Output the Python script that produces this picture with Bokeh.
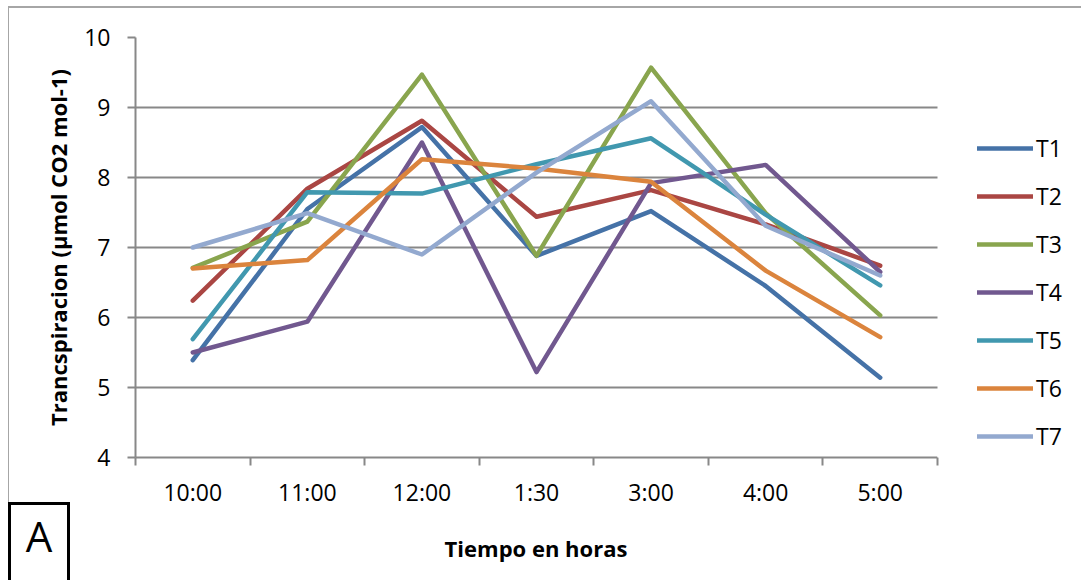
from bokeh.plotting import figure
from bokeh.layouts import column, row
from bokeh.models import Range1d, FixedTicker, Legend, LegendItem, Div, BoxAnnotation
from bokeh.embed import file_html
from bokeh.resources import INLINE

# Hours of measurement and transpiration per treatment
horas = ["10:00", "11:00", "12:00", "1:30", "3:00", "4:00", "5:00"]
T1 = [5.39, 7.55, 8.72, 6.88, 7.52, 6.45, 5.14]
T2 = [6.24, 7.84, 8.81, 7.44, 7.82, 7.33, 6.74]
T3 = [6.71, 7.37, 9.47, 6.88, 9.57, 7.49, 6.03]
T4 = [5.50, 5.94, 8.50, 5.22, 7.92, 8.18, 6.65]
T5 = [5.69, 7.79, 7.77, 8.19, 8.56, 7.47, 6.46]
T6 = [6.70, 6.82, 8.26, 8.13, 7.94, 6.67, 5.72]
T7 = [7.00, 7.49, 6.90, 8.07, 9.09, 7.31, 6.60]
y_ticks = [4, 5, 6, 7, 8, 9, 10]

series = [("T1", T1), ("T2", T2), ("T3", T3), ("T4", T4),
          ("T5", T5), ("T6", T6), ("T7", T7)]
colors = ["#4572A7", "#AA4643", "#89A54E", "#71588F", "#4198AF", "#DB843D", "#93A9CF"]

FONT = "Open Sans"
GRAY = "#888888"
BORDER_GRAY = "#a6a6a6"

# page layout: thin HTML strips carry the chart-area border, panel letter and x title
W, H = 1081, 580
TOP_H = 8
LEFT_W = 9
BOT_H = 70
MAIN_W = W - LEFT_W
MAIN_H = H - TOP_H - BOT_H

# top edge of the chart-area border: a 2px grey bar, 6px from the top, 8px in
top = Div(text="", width=W - 8, height=2, margin=(6, 0, 0, 8),
          styles={"background-color": BORDER_GRAY})

left = Div(width=LEFT_W, height=MAIN_H, margin=0, text=(
    f'<div style="position:relative;width:{LEFT_W}px;height:{MAIN_H}px;">'
    f'<div style="position:absolute;left:7.5px;top:0;width:1.5px;height:{MAIN_H}px;'
    f'background:{BORDER_GRAY};"></div></div>'))

bottom = Div(width=W, height=BOT_H, margin=0, text=(
    f'<div style="position:relative;width:{W}px;height:{BOT_H}px;">'
    '<div style="position:absolute;left:8px;top:-8px;width:62px;height:120px;'
    'box-sizing:border-box;border:3.5px solid #000;background:#fff;z-index:10;">'
    f'<div style="position:absolute;left:0;top:10px;width:100%;text-align:center;'
    f"font-family:'{FONT}';font-size:42px;line-height:42px;color:#000;\">A</div></div>"
    '<div style="position:absolute;left:0;top:27px;width:1072px;text-align:center;'
    f"font-family:'{FONT}';font-size:22px;font-weight:bold;line-height:22px;color:#000;\">"
    'Tiempo en horas</div></div>'))

# main chart: the frame runs to the right edge so the legend sits inside it
n = len(horas)
x_centers = [i + 0.5 for i in range(n)]
x_bounds = [float(i) for i in range(n + 1)]

PLOT_L, PLOT_R = 126, 928          # horizontal pixel span of the category axis
x_end = n * (MAIN_W - PLOT_L) / (PLOT_R - PLOT_L)

p = figure(width=MAIN_W, height=MAIN_H, output_backend="svg", toolbar_location=None,
           x_range=Range1d(0, x_end), y_range=Range1d(y_ticks[0], y_ticks[-1]),
           min_border_left=PLOT_L, min_border_right=0,
           min_border_top=29, min_border_bottom=51)
p.outline_line_color = None
p.background_fill_color = "white"
p.border_fill_color = "white"

p.xgrid.grid_line_color = None
p.ygrid.grid_line_color = GRAY
p.ygrid.grid_line_width = 2
p.ygrid.ticker = FixedTicker(ticks=y_ticks)

ya = p.yaxis[0]
ya.ticker = FixedTicker(ticks=y_ticks)
ya.axis_line_color = GRAY
ya.axis_line_width = 2
ya.major_tick_line_color = GRAY
ya.major_tick_line_width = 2
ya.major_tick_out = 8
ya.major_tick_in = 0
ya.minor_tick_line_color = None
ya.major_label_text_font = FONT
ya.major_label_text_font_size = "23px"
ya.major_label_text_color = "#000000"
ya.major_label_standoff = 17
ya.axis_label = "Trancspiracion (µmol CO2 mol-1)"
ya.axis_label_text_font = FONT
ya.axis_label_text_font_size = "22px"
ya.axis_label_text_font_style = "bold"
ya.axis_label_text_color = "#000000"
ya.axis_label_standoff = 8

# category labels at centres, tick marks at category boundaries
xa = p.xaxis[0]
xa.bounds = (0, n)
xa.ticker = FixedTicker(ticks=x_centers, minor_ticks=x_bounds)
xa.major_label_overrides = {c: h for c, h in zip(x_centers, horas)}
xa.axis_line_color = GRAY
xa.axis_line_width = 2
xa.major_tick_line_color = None
xa.minor_tick_line_color = GRAY
xa.minor_tick_line_width = 2
xa.minor_tick_out = 8
xa.minor_tick_in = 0
xa.major_label_text_font = FONT
xa.major_label_text_font_size = "23px"
xa.major_label_text_color = "#000000"
xa.major_label_standoff = 10

items = []
for (name, vals), col in zip(series, colors):
    r = p.line(x_centers, vals, line_color=col, line_width=4.5,
               line_cap="round", line_join="round")
    items.append(LegendItem(label=name, renderers=[r]))

# blank the gridlines beyond the last category (legend area)
p.add_layout(BoxAnnotation(left=n, fill_color="white", fill_alpha=1,
                           line_color=None, level="annotation"))

legend = Legend(items=items, location=(842, 4), orientation="vertical",
                glyph_width=56, glyph_height=34, label_height=34, spacing=14,
                label_standoff=3, padding=0, margin=0,
                label_text_font=FONT, label_text_font_size="23px",
                label_text_color="#000000", level="overlay",
                border_line_color=None, background_fill_alpha=0)
p.add_layout(legend, "center")

layout = column(top, row(left, p), bottom)
open("out.html", "w").write(file_html(layout, INLINE))
